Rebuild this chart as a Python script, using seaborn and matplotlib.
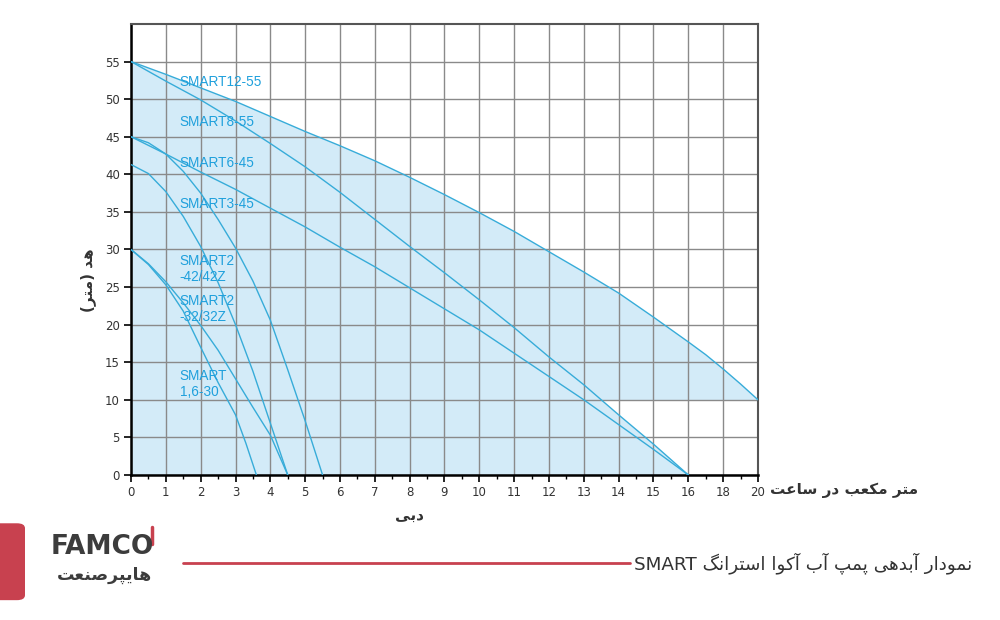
import numpy as np
import pandas as pd
import matplotlib
matplotlib.use("Agg")
import matplotlib.pyplot as plt
import matplotlib.ticker as mtick
from matplotlib.patches import FancyBboxPatch
import seaborn as sns

# --- Daten ---
x_12_55 = [0, 1, 2, 3, 4, 5, 6, 7, 8, 9, 10, 11, 12, 13, 14, 15, 16, 17, 18, 19, 20]
y_12_55 = [55, 53.3, 51.5, 49.7, 47.7, 45.7, 43.8, 41.8, 39.6, 37.3, 34.9, 32.4, 29.7, 27.0,
           24.2, 21.0, 17.7, 16.0, 14.1, 12.1, 10.0]

x_8_55 = [0, 1, 2, 3, 4, 5, 6, 7, 8, 9, 10, 11, 12, 13, 14, 15, 16]
y_8_55 = [55, 52.4, 49.9, 47.1, 44.1, 41.0, 37.6, 34.0, 30.4, 26.9, 23.3, 19.6, 15.7, 12.0, 8.0, 4.1, 0]

x_6_45 = [0, 1, 2, 3, 4, 5, 6, 7, 8, 9, 10, 11, 12, 13, 14, 15, 16]
y_6_45 = [45, 42.7, 40.3, 38.0, 35.5, 33.0, 30.3, 27.7, 24.9, 22.1, 19.3, 16.2, 13.1, 10.0, 6.7, 3.4, 0]

x_3_45 = [0, 0.5, 1, 1.5, 2, 2.5, 3, 3.5, 4, 4.5, 5, 5.5]
y_3_45 = [45, 44.2, 42.7, 40.4, 37.5, 34.0, 30.2, 25.8, 20.6, 14.0, 7.2, 0]

x_2_42 = [0, 0.5, 1, 1.5, 2, 2.5, 3, 3.5, 4, 4.5]
y_2_42 = [41.3, 40.1, 37.7, 34.4, 30.4, 25.6, 20.0, 13.8, 6.9, 0]

x_2_32 = [0, 0.5, 1, 1.5, 2, 2.5, 3, 3.5, 4, 4.5]
y_2_32 = [30, 28.1, 25.7, 22.9, 19.9, 16.6, 12.8, 9.0, 5.3, 0]

x_1_6 = [0, 0.5, 1, 1.5, 2, 2.5, 3, 3.3, 3.6]
y_1_6 = [30, 28.0, 25.3, 21.8, 17.0, 12.3, 8.0, 4.2, 0]

series = {
    "SMART12-55": (x_12_55, y_12_55),
    "SMART8-55": (x_8_55, y_8_55),
    "SMART6-45": (x_6_45, y_6_45),
    "SMART3-45": (x_3_45, y_3_45),
    "SMART2-42/42Z": (x_2_42, y_2_42),
    "SMART2-32/32Z": (x_2_32, y_2_32),
    "SMART1.6-30": (x_1_6, y_1_6),
}

# Beschriftungen im Diagramm (Text, y-Position)
curve_labels = ["SMART12-55", "SMART8-55", "SMART6-45", "SMART3-45",
                "SMART2\n-42/42Z", "SMART2\n-32/32Z", "SMART\n1,6-30"]
curve_label_y = [52.3, 47.0, 41.5, 36.1, 27.4, 22.1, 12.1]

x_ticks = list(range(0, 17)) + [18, 20]
y_ticks = list(range(0, 60, 5))

# --- einfache persische Zeichenformung (matplotlib formt kein Arabisch) ---
FORMS = {
    'ا': ('\uFE8D', '\uFE8E', None, None),
    'آ': ('\uFE81', '\uFE82', None, None),
    'د': ('\uFEA9', '\uFEAA', None, None),
    'ر': ('\uFEAD', '\uFEAE', None, None),
    'و': ('\uFEED', '\uFEEE', None, None),
    'ب': ('\uFE8F', '\uFE90', '\uFE91', '\uFE92'),
    'ت': ('\uFE95', '\uFE96', '\uFE97', '\uFE98'),
    'س': ('\uFEB1', '\uFEB2', '\uFEB3', '\uFEB4'),
    'ص': ('\uFEB9', '\uFEBA', '\uFEBB', '\uFEBC'),
    'ع': ('\uFEC9', '\uFECA', '\uFECB', '\uFECC'),
    'م': ('\uFEE1', '\uFEE2', '\uFEE3', '\uFEE4'),
    'ن': ('\uFEE5', '\uFEE6', '\uFEE7', '\uFEE8'),
    'ه': ('\uFEE9', '\uFEEA', '\uFEEB', '\uFEEC'),
    'پ': ('\uFB56', '\uFB57', '\uFB58', '\uFB59'),
    'ک': ('\uFB8E', '\uFB8F', '\uFB90', '\uFB91'),
    'گ': ('\uFB92', '\uFB93', '\uFB94', '\uFB95'),
    'ی': ('\uFBFC', '\uFBFD', '\uFBFE', '\uFBFF'),
}


def shape_fa(s):
    out = []
    for i, ch in enumerate(s):
        if ch not in FORMS:
            out.append(ch)
            continue
        prev = s[i - 1] if i > 0 else ''
        nxt = s[i + 1] if i + 1 < len(s) else ''
        f = FORMS[ch]
        jp = prev in FORMS and FORMS[prev][2] is not None
        jn = f[2] is not None and nxt in FORMS
        if jp and jn:
            out.append(f[3])
        elif jp:
            out.append(f[1])
        elif jn:
            out.append(f[2])
        else:
            out.append(f[0])
    vis = ''.join(reversed(out))
    return vis.translate(str.maketrans('()', ')('))


# x-Achse: 0..16 linear, 16..20 gestaucht (halbe Breite)
def fwd(x):
    x = np.asarray(x, dtype=float)
    return np.where(x <= 16, x, 16 + (x - 16) / 2)


def inv(t):
    t = np.asarray(t, dtype=float)
    return np.where(t <= 16, t, 16 + 2 * (t - 16))


line_col = "#37acd9"
fill_col = "#d3ebf8"
text_col = "#1fa0dc"

sns.set_style("white")
plt.rcParams['font.family'] = ['DejaVu Sans']

fig = plt.figure(figsize=(10, 6.2), dpi=100)
ax = fig.add_axes([0.131, 0.2339, 0.627, 0.7274])
ax.set_xscale('function', functions=(fwd, inv))

# Flächen
ax.fill_between(x_12_55, 10, y_12_55, color=fill_col, lw=0, zorder=1)
ax.fill_between(x_8_55, 0, y_8_55, color=fill_col, lw=0, zorder=1)

# Kennlinien
df = pd.concat([pd.DataFrame({"q": xs, "h": ys, "pump": name})
                for name, (xs, ys) in series.items()], ignore_index=True)
sns.lineplot(data=df, x="q", y="h", hue="pump", units="pump", estimator=None,
             sort=False, palette=[line_col] * len(series), linewidth=1.0,
             legend=False, ax=ax, zorder=3)

for lab, ly in zip(curve_labels, curve_label_y):
    ax.text(1.4, ly, lab, color=text_col, fontsize=9.8, family="Liberation Sans",
            va="center", ha="left", linespacing=1.15, zorder=4)

ax.set_xlim(0, 20)
ax.set_ylim(0, 60)
ax.xaxis.set_major_locator(mtick.FixedLocator(x_ticks))
ax.xaxis.set_minor_locator(mtick.FixedLocator([i + 0.5 for i in range(16)] + [17, 19]))
ax.yaxis.set_major_locator(mtick.FixedLocator(y_ticks))
ax.xaxis.set_major_formatter(mtick.FuncFormatter(lambda v, p: f"{v:.0f}"))
ax.xaxis.set_minor_formatter(mtick.NullFormatter())

ax.set_axisbelow('line')
ax.grid(True, which='major', color='#8a8a8a', lw=1.0)
ax.tick_params(axis='both', which='major', direction='out', length=5, width=1.2,
               color='black', labelsize=8.5, labelcolor='#333333', pad=3)
ax.tick_params(axis='x', which='minor', direction='out', length=3, width=1.0, color='black')
ax.tick_params(axis='y', which='both', left=True)
ax.tick_params(axis='x', which='both', bottom=True)

for side in ['left', 'bottom']:
    ax.spines[side].set_color('black')
    ax.spines[side].set_linewidth(1.8)
for side in ['top', 'right']:
    ax.spines[side].set_color('#555555')
    ax.spines[side].set_linewidth(1.5)

ax.set_xlabel("")
ax.set_ylabel("")

# Achsentitel
fig.text(0.088, 0.548, shape_fa("هد (متر)"), rotation=90, ha='center', va='center',
         fontsize=11, fontweight='bold', color='#333333')
fig.text(0.77, 0.209, shape_fa("متر مکعب در ساعت"), ha='left', va='center',
         fontsize=11, fontweight='bold', color='#333333')
fig.text(0.41, 0.169, shape_fa("دبی"), ha='center', va='center',
         fontsize=11, fontweight='bold', color='#333333')

# Fußzeile mit Logo
red = "#c8414f"
fig.patches.append(FancyBboxPatch((-0.02, 0.032), 0.045, 0.124, transform=fig.transFigure,
                                  boxstyle="round,pad=0,rounding_size=0.008",
                                  facecolor=red, edgecolor='none'))
fig.text(0.051, 0.118, "FAMCO", ha='left', va='center', fontsize=19, fontweight='bold',
         color='#3c3c3c')
fig.lines.append(plt.Line2D([0.152, 0.152], [0.122, 0.150], transform=fig.transFigure,
                            color=red, lw=2.5))
fig.text(0.104, 0.073, shape_fa("هایپرصنعت"), ha='center', va='center', fontsize=12.5,
         fontweight='bold', color='#3c3c3c')
fig.lines.append(plt.Line2D([0.183, 0.630], [0.092, 0.092], transform=fig.transFigure,
                            color=red, lw=2.0))
fig.text(0.972, 0.092, "SMART " + shape_fa("نمودار آبدهی پمپ آب آکوا استرانگ"),
         ha='right', va='center', fontsize=13.2, color='#333333')

fig.savefig("out.png", dpi=100)
